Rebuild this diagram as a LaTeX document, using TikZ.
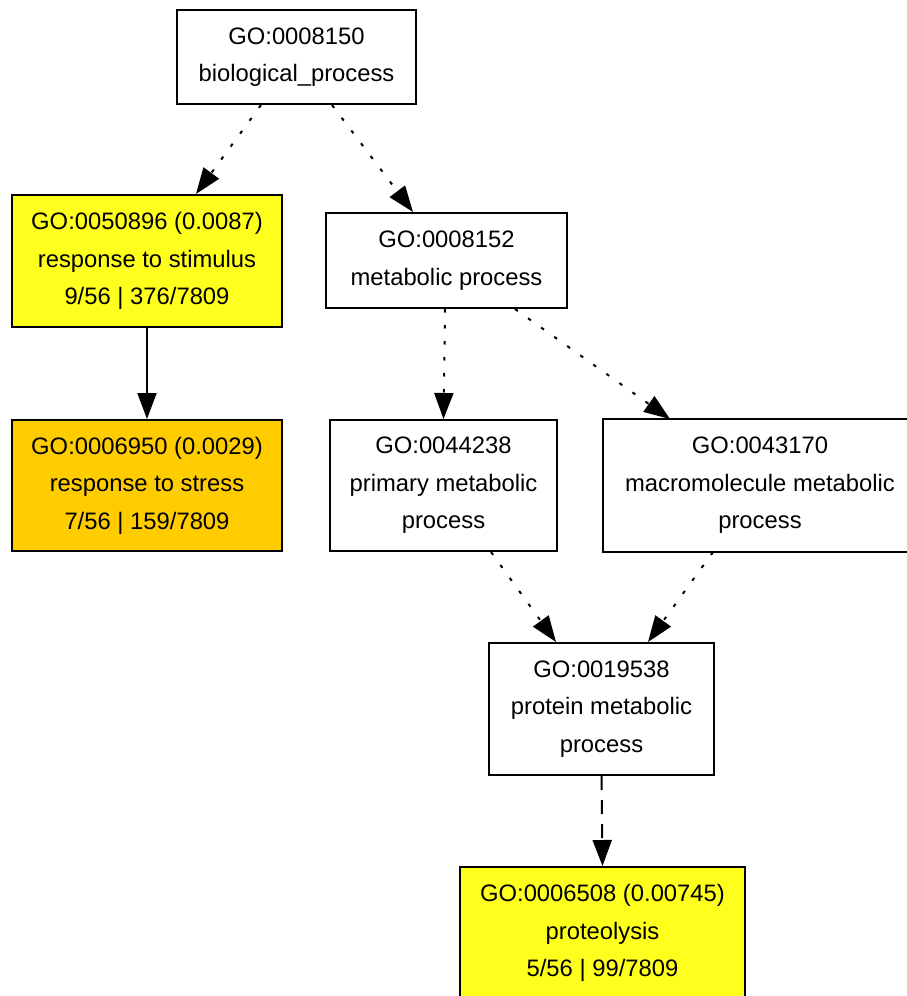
\documentclass[tikz,border=0pt]{standalone}
\usepackage{fontspec}
\setmainfont{Liberation Sans}
\usetikzlibrary{arrows.meta}
\definecolor{goyellow}{HTML}{FFFF1E}
\definecolor{goorange}{HTML}{FFCC00}
\begin{document}
\begin{tikzpicture}[x=1pt,y=-1pt,
  gobox/.style={draw=black, line width=2pt, rectangle, inner sep=0pt, align=center,
    font=\fontsize{23.8}{37.5}\selectfont},
  link/.style={line width=2pt, -{Triangle[length=26pt,width=19pt]}},
  dotlink/.style={link, dash pattern=on 3.5pt off 12.5pt},
  dashlink/.style={link, dash pattern=on 14pt off 10pt}
]
\fill[white] (0,0) rectangle (907,996);
\coordinate (rightedge) at (907,0);
\useasboundingbox (0,0) rectangle (907,996);

\node[gobox, minimum width=239pt, minimum height=94pt] (n1) at (296.5,57)
  {GO:0008150\\biological\_process};
\node[gobox, fill=goyellow, minimum width=270pt, minimum height=132pt] (n2) at (147,261)
  {GO:0050896 (0.0087)\\response to stimulus\\9/56 | 376/7809};
\node[gobox, minimum width=241pt, minimum height=95pt] (n3) at (446.5,260.5)
  {GO:0008152\\metabolic process};
\node[gobox, fill=goorange, minimum width=270pt, minimum height=131pt] (n4) at (147,485.5)
  {GO:0006950 (0.0029)\\response to stress\\7/56 | 159/7809};
\node[gobox, minimum width=227pt, minimum height=131pt] (n5) at (443.5,485.5)
  {GO:0044238\\primary metabolic\\process};
\node[gobox, draw=none, minimum width=312pt, minimum height=131pt] (n6) at (760,485.5)
  {GO:0043170\\macromolecule metabolic\\process};
\draw[line width=2pt] (n6.south west -| rightedge) -- (n6.south west) -- (n6.north west) -- (n6.north west -| rightedge);
\node[gobox, minimum width=225pt, minimum height=132pt] (n7) at (601.5,709)
  {GO:0019538\\protein metabolic\\process};
\node[gobox, fill=goyellow, minimum width=285pt, minimum height=132pt] (n8) at (602.5,933)
  {GO:0006508 (0.00745)\\proteolysis\\5/56 | 99/7809};

\draw[dotlink] ([xshift=-35.5pt]n1.south) -- ([xshift=49pt]n2.north);
\draw[dotlink] ([xshift=35.5pt]n1.south) -- ([xshift=-33.5pt]n3.north);
\draw[link] (n2.south) -- (n4.north);
\draw[dotlink] ([xshift=-1.5pt]n3.south) -- (n5.north);
\draw[dotlink] ([xshift=68.5pt]n3.south) -- ([xshift=-90pt]n6.north);
\draw[dotlink] ([xshift=47.5pt]n5.south) -- ([xshift=-45.5pt]n7.north);
\draw[dotlink] ([xshift=-47pt]n6.south) -- ([xshift=46.5pt]n7.north);
\draw[dashlink] (n7.south) -- (n8.north);
\end{tikzpicture}
\end{document}
